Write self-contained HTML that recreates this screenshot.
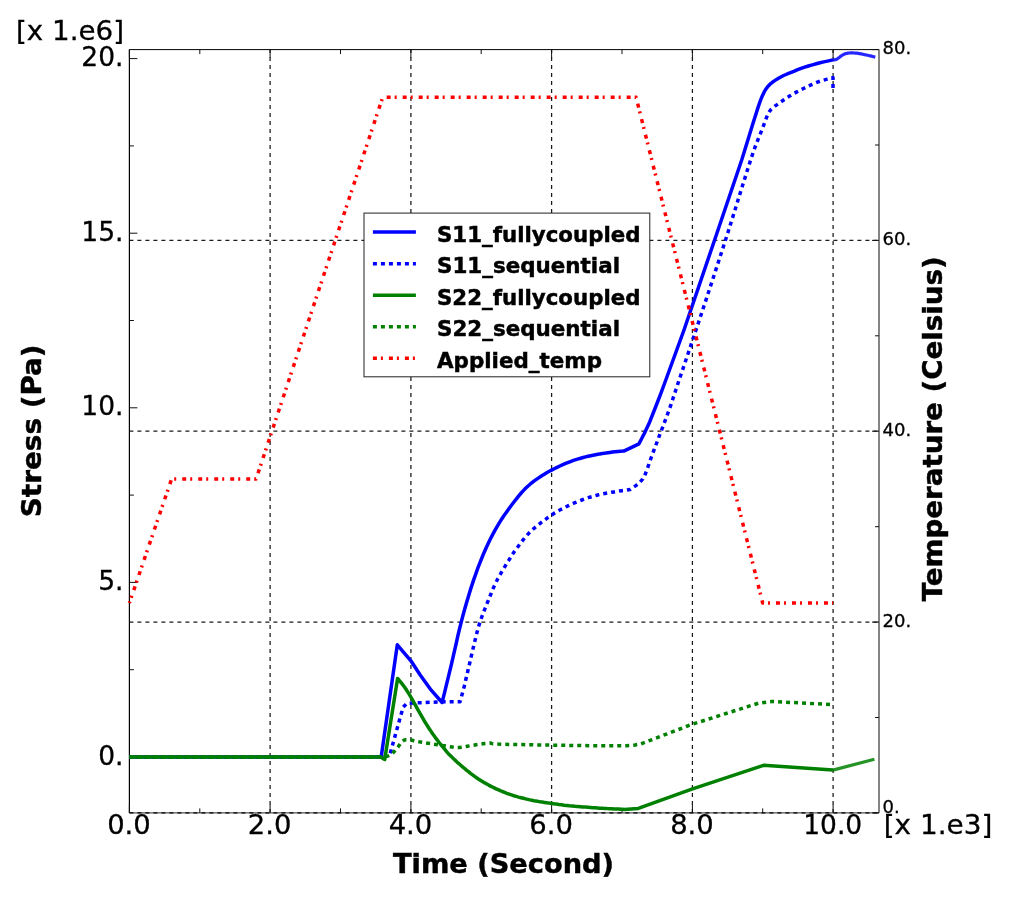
<!DOCTYPE html>
<html lang="en"><head><meta charset="utf-8"><title>Stress and temperature vs time</title>
<style>html,body{margin:0;padding:0;background:#fff;overflow:hidden}svg{display:block;will-change:transform}text{font-family:"DejaVu Sans", "Liberation Sans", sans-serif;fill:#000;stroke:#000;stroke-width:0.3px}.b{font-weight:bold;stroke-width:0.45px}</style>
</head><body>
<svg width="1026" height="897" viewBox="0 0 1026 897">
<rect x="0" y="0" width="1026" height="897" fill="#ffffff"/>
<g stroke="#1a1a1a" stroke-width="1.25" stroke-dasharray="4 4" fill="none">
<line x1="270.1" y1="812.9" x2="270.1" y2="49.6"/>
<line x1="410.9" y1="812.9" x2="410.9" y2="49.6"/>
<line x1="551.6" y1="812.9" x2="551.6" y2="49.6"/>
<line x1="692.4" y1="812.9" x2="692.4" y2="49.6"/>
<line x1="833.1" y1="812.9" x2="833.1" y2="49.6"/>
<line x1="129.4" y1="622.1" x2="879.0" y2="622.1"/>
<line x1="129.4" y1="431.2" x2="879.0" y2="431.2"/>
<line x1="129.4" y1="240.4" x2="879.0" y2="240.4"/>
</g>
<g fill="none">
<line x1="129.4" y1="49.6" x2="879.0" y2="49.6" stroke="#000" stroke-width="1"/>
<line x1="129.4" y1="49.6" x2="129.4" y2="812.9" stroke="#000" stroke-width="1.2"/>
<line x1="879.0" y1="49.6" x2="879.0" y2="812.9" stroke="#666" stroke-width="1.6"/>
<line x1="129.4" y1="812.9" x2="879.0" y2="812.9" stroke="#555" stroke-width="1.4"/>
<line x1="129.4" y1="812.9" x2="879.0" y2="812.9" stroke="#000" stroke-width="1.4" stroke-dasharray="4 4"/>
</g>
<g stroke="#111" stroke-width="1" fill="none">
<line x1="129.4" y1="812.9" x2="129.4" y2="804.9"/>
<line x1="129.4" y1="49.6" x2="129.4" y2="57.6"/>
<line x1="199.8" y1="812.9" x2="199.8" y2="808.4"/>
<line x1="199.8" y1="49.6" x2="199.8" y2="54.1"/>
<line x1="270.1" y1="812.9" x2="270.1" y2="804.9"/>
<line x1="270.1" y1="49.6" x2="270.1" y2="57.6"/>
<line x1="340.5" y1="812.9" x2="340.5" y2="808.4"/>
<line x1="340.5" y1="49.6" x2="340.5" y2="54.1"/>
<line x1="410.9" y1="812.9" x2="410.9" y2="804.9"/>
<line x1="410.9" y1="49.6" x2="410.9" y2="57.6"/>
<line x1="481.2" y1="812.9" x2="481.2" y2="808.4"/>
<line x1="481.2" y1="49.6" x2="481.2" y2="54.1"/>
<line x1="551.6" y1="812.9" x2="551.6" y2="804.9"/>
<line x1="551.6" y1="49.6" x2="551.6" y2="57.6"/>
<line x1="622.0" y1="812.9" x2="622.0" y2="808.4"/>
<line x1="622.0" y1="49.6" x2="622.0" y2="54.1"/>
<line x1="692.4" y1="812.9" x2="692.4" y2="804.9"/>
<line x1="692.4" y1="49.6" x2="692.4" y2="57.6"/>
<line x1="762.7" y1="812.9" x2="762.7" y2="808.4"/>
<line x1="762.7" y1="49.6" x2="762.7" y2="54.1"/>
<line x1="833.1" y1="812.9" x2="833.1" y2="804.9"/>
<line x1="833.1" y1="49.6" x2="833.1" y2="57.6"/>
<line x1="129.4" y1="757.0" x2="137.4" y2="757.0"/>
<line x1="129.4" y1="669.7" x2="133.9" y2="669.7"/>
<line x1="129.4" y1="582.4" x2="137.4" y2="582.4"/>
<line x1="129.4" y1="495.1" x2="133.9" y2="495.1"/>
<line x1="129.4" y1="407.8" x2="137.4" y2="407.8"/>
<line x1="129.4" y1="320.5" x2="133.9" y2="320.5"/>
<line x1="129.4" y1="233.2" x2="137.4" y2="233.2"/>
<line x1="129.4" y1="145.9" x2="133.9" y2="145.9"/>
<line x1="129.4" y1="58.6" x2="137.4" y2="58.6"/>
<line x1="879.0" y1="812.9" x2="872.0" y2="812.9"/>
<line x1="879.0" y1="717.5" x2="875.0" y2="717.5"/>
<line x1="879.0" y1="622.1" x2="872.0" y2="622.1"/>
<line x1="879.0" y1="526.7" x2="875.0" y2="526.7"/>
<line x1="879.0" y1="431.2" x2="872.0" y2="431.2"/>
<line x1="879.0" y1="335.8" x2="875.0" y2="335.8"/>
<line x1="879.0" y1="240.4" x2="872.0" y2="240.4"/>
<line x1="879.0" y1="145.0" x2="875.0" y2="145.0"/>
<line x1="879.0" y1="49.6" x2="872.0" y2="49.6"/>
</g>
<g fill="none" stroke-width="3.5" stroke-linejoin="round">
<polyline stroke="#0000ff" points="129.4,757.0 381.2,757.0 397.3,644.8 410.9,660.8 420.2,675.0 431.2,690.2 442.1,702.5 443.1,698.4 444.5,692.8 446.1,686.1 447.9,678.8 449.7,671.4 451.4,664.3 453.0,657.4 454.6,650.3 456.3,643.0 457.9,635.7 459.6,628.6 461.3,621.8 463.0,615.2 464.8,608.8 466.6,602.5 468.4,596.4 470.2,590.4 472.1,584.6 474.0,578.9 476.0,573.3 477.9,567.9 480.0,562.6 482.0,557.5 484.1,552.5 486.2,547.7 488.4,543.0 490.6,538.5 492.9,534.1 495.2,529.9 497.5,525.8 499.9,521.9 502.4,518.0 504.8,514.4 507.3,510.9 509.8,507.5 512.2,504.3 514.5,501.3 516.8,498.4 519.0,495.6 521.2,493.0 523.4,490.6 525.6,488.3 527.8,486.2 530.1,484.2 532.4,482.4 534.6,480.7 536.8,479.1 539.0,477.6 541.1,476.2 543.1,474.9 545.1,473.7 547.1,472.5 549.3,471.3 551.6,470.1 554.2,468.8 557.0,467.4 559.9,466.0 562.8,464.7 565.7,463.4 568.4,462.3 571.0,461.3 573.5,460.4 575.9,459.6 578.3,458.9 580.7,458.2 583.1,457.5 585.6,456.9 588.1,456.3 590.7,455.7 593.2,455.2 595.6,454.7 597.9,454.3 600.0,453.9 602.1,453.6 604.0,453.2 605.9,453.0 607.9,452.7 610.0,452.4 612.4,452.1 615.1,451.8 617.9,451.5 620.5,451.3 622.7,451.1 624.3,450.9 639.0,443.8 644.3,433.5 649.7,421.9 655.0,408.5 660.4,394.7 665.8,380.0 684.0,330.0 718.0,230.0 741.7,160.0 749.5,134.7 751.1,129.5 753.4,122.1 755.9,114.2 757.9,107.9 759.3,103.7 760.4,100.6 761.4,98.1 762.4,95.7 763.5,93.4 764.5,91.4 765.6,89.6 766.8,87.9 768.0,86.3 769.3,85.0 770.7,83.6 772.4,82.3 774.4,80.9 776.6,79.4 778.9,78.0 781.3,76.7 783.6,75.5 786.0,74.5 788.5,73.4 791.3,72.3 794.4,71.1 797.7,69.7 801.1,68.4 804.7,67.2 808.4,66.0 812.4,64.9 816.3,63.8 820.0,62.8 823.7,61.9 827.5,61.1 830.7,60.4 833.0,59.9"/>
<polyline stroke="#0000ff" stroke-opacity="0.85" stroke-width="3.2" points="833.0,59.9 833.6,59.9 834.4,59.8 835.4,59.7 836.4,59.4 837.4,58.8 838.4,58.0 839.5,57.2 840.5,56.4 841.5,55.7 842.5,55.1 843.5,54.5 844.6,54.0 845.7,53.6 846.9,53.4 848.1,53.1 849.3,53.0 850.5,52.9 851.6,52.9 852.8,52.9 854.1,53.0 855.4,53.1 856.7,53.2 858.1,53.4 859.6,53.6 861.2,53.9 862.8,54.2 864.5,54.6 866.4,55.0 868.7,55.5 871.3,56.1 873.7,56.7 875.3,57.1"/>
<polyline stroke="#0000ff" stroke-dasharray="4 4" points="833.0,88.0 833.0,77.6 830.7,78.2 827.3,79.1 823.6,80.1 820.0,81.2 816.8,82.4 813.6,83.8 810.3,85.2 807.0,86.8 803.5,88.5 800.0,90.2 796.4,92.1 793.0,94.0 789.6,96.1 786.1,98.3 782.9,100.5 780.2,102.4 778.1,103.9 776.4,105.1 774.9,106.2 773.5,107.4 772.1,108.6 770.9,109.6 769.8,111.0 768.5,113.0 767.3,115.6 766.1,118.6 764.7,122.4 762.9,127.4 760.7,132.9 758.2,139.0 755.1,147.0 751.2,158.1 746.4,173.2 740.7,191.4 734.5,211.5 728.0,232.2 720.9,254.3 713.1,278.2 705.4,301.7 698.5,322.5 692.5,340.5 687.0,356.8 682.2,371.0 678.2,382.7 675.4,391.2 673.5,396.9 672.1,401.2 670.7,405.4 669.2,409.6 667.9,413.2 666.6,416.6 665.3,420.1 663.9,423.7 662.6,427.3 661.1,431.1 659.5,435.3 657.7,440.2 655.7,445.6 653.6,451.1 651.5,456.7 649.5,462.5 647.4,468.5 645.3,474.1 642.8,478.9 639.6,482.6 635.9,485.6 632.4,487.9 630.0,489.6 628.6,489.8 626.6,490.1 624.3,490.4 621.8,490.7 619.1,491.1 616.6,491.5 614.1,491.9 611.4,492.3 608.7,492.8 606.0,493.3 603.2,493.8 600.5,494.4 597.8,495.0 595.2,495.7 592.5,496.5 589.8,497.2 587.2,498.1 584.5,499.0 581.8,500.0 579.2,501.0 576.5,502.1 573.8,503.2 571.1,504.4 568.4,505.7 565.7,507.0 563.0,508.4 560.3,509.8 557.5,511.3 554.6,513.0 551.6,515.0 548.3,517.3 544.7,519.9 541.1,522.6 537.5,525.5 534.1,528.3 531.0,531.1 528.3,533.8 525.9,536.5 523.7,539.2 521.6,541.8 519.6,544.5 517.6,547.2 515.7,549.8 513.8,552.4 512.1,555.0 510.4,557.7 508.7,560.4 506.9,563.2 505.1,566.2 503.2,569.2 501.4,572.4 499.6,575.6 497.8,578.7 496.2,581.9 494.7,585.0 493.3,588.1 492.0,591.2 490.8,594.3 489.5,597.4 488.2,600.7 486.8,604.1 485.4,607.7 483.9,611.4 482.5,615.0 481.2,618.5 480.1,621.8 479.2,624.6 478.4,627.1 477.8,629.3 477.2,631.8 476.4,634.8 475.5,638.5 474.3,643.4 472.9,649.2 471.4,655.6 470.0,661.9 468.6,667.7 467.5,672.5 466.6,676.1 466.0,679.0 465.4,681.3 465.0,683.4 464.5,685.4 463.9,687.7 463.2,690.3 462.5,693.0 461.7,695.7 461.0,698.2 460.4,700.3 460.0,701.8 442.1,701.8 407.0,703.3 403.1,707.2 389.8,754.8 384.0,757.0 129.4,757.0"/>
<polyline stroke="#008000" points="129.4,757.0 380.5,757.0 384.7,759.5 397.6,678.4 398.3,679.2 399.2,680.3 400.3,681.6 401.5,683.1 402.7,684.6 403.9,686.2 405.0,687.8 406.2,689.5 407.3,691.3 408.5,693.1 409.7,695.1 410.9,697.1 412.2,699.3 413.4,701.6 414.7,704.0 416.1,706.4 417.4,708.8 418.7,711.1 420.0,713.4 421.3,715.6 422.6,717.9 423.9,720.1 425.2,722.3 426.5,724.4 427.8,726.5 429.1,728.5 430.4,730.4 431.7,732.4 433.0,734.3 434.3,736.1 435.6,737.9 436.9,739.6 438.2,741.3 439.5,743.0 440.8,744.6 442.1,746.2 443.4,747.7 444.6,749.2 445.8,750.7 447.0,752.1 448.4,753.7 450.0,755.3 451.8,757.1 453.8,759.0 455.9,760.9 458.0,762.9 460.2,764.8 462.3,766.6 464.4,768.3 466.4,770.1 468.5,771.7 470.5,773.4 472.6,774.9 474.6,776.4 476.6,777.8 478.7,779.2 480.8,780.5 482.8,781.7 484.8,782.9 486.8,784.0 488.7,785.1 490.6,786.1 492.4,787.0 494.2,787.9 496.1,788.8 498.1,789.7 500.2,790.6 502.3,791.5 504.6,792.4 506.8,793.3 509.1,794.1 511.4,794.9 513.7,795.7 516.2,796.4 518.6,797.1 521.0,797.7 523.4,798.3 525.7,798.9 527.9,799.4 529.9,799.9 531.9,800.3 533.9,800.7 535.9,801.0 538.0,801.4 540.1,801.8 542.3,802.1 544.5,802.4 546.7,802.7 549.0,803.1 551.3,803.4 553.7,803.8 556.2,804.1 558.8,804.5 561.4,804.8 564.1,805.2 566.7,805.5 569.4,805.8 572.1,806.0 574.9,806.3 577.7,806.5 580.4,806.7 583.0,806.9 585.5,807.1 587.9,807.3 590.3,807.5 592.7,807.7 595.0,807.8 597.4,808.0 599.8,808.2 602.2,808.3 604.7,808.4 607.1,808.6 609.4,808.7 611.7,808.8 614.0,808.9 616.4,809.0 618.7,809.1 620.9,809.3 622.7,809.3 624.0,809.4 638.3,808.4 691.8,789.2 763.5,765.3 832.9,770.1"/>
<polyline stroke="#008000" stroke-opacity="0.85" stroke-width="3.2" points="832.9,770.1 874.4,759.2"/>
<polyline stroke="#008000" stroke-dasharray="4 4" points="129.4,757.0 384.0,757.0 385.2,756.7 386.9,756.3 388.8,755.7 390.6,754.8 392.2,753.6 393.8,752.0 395.3,750.3 396.8,748.6 398.2,746.8 399.6,744.8 400.9,742.9 402.3,741.5 403.5,740.6 404.5,740.0 405.8,739.7 407.8,739.7 410.7,740.0 414.2,740.7 418.0,741.6 421.8,742.3 425.7,742.9 429.7,743.5 433.7,744.1 437.4,744.7 440.8,745.3 444.0,745.8 447.1,746.3 449.9,746.7 452.4,747.1 454.6,747.4 456.8,747.6 459.2,747.6 461.7,747.3 464.3,746.9 467.1,746.3 470.5,745.7 474.8,745.0 479.8,744.2 484.8,743.5 488.9,743.1 490.8,743.1 491.3,743.4 492.9,743.8 498.1,744.1 508.6,744.4 522.7,744.6 537.8,744.9 551.3,745.1 562.8,745.3 573.6,745.5 583.7,745.6 593.3,745.7 602.6,745.8 611.4,745.8 619.3,745.8 626.0,745.7 631.2,745.4 635.2,744.9 638.2,744.4 640.3,744.1 691.8,724.4 758.4,703.2 772.0,701.5 833.4,704.6"/>
<polyline stroke="#ff0000" stroke-dasharray="4 4 2 6" stroke-dashoffset="2.4" points="129.4,603.0 171.6,479.0 256.1,479.0 382.7,97.3 636.1,97.3 762.7,603.0 833.1,603.0"/>
</g>
<rect x="364.0" y="213.1" width="285.8" height="163.7" fill="#fff" stroke="#222" stroke-width="1"/>
<line x1="372.9" y1="232.1" x2="415.9" y2="232.1" stroke="#0000ff" stroke-width="3.5"/>
<text class="b" x="437" y="241.7" font-size="20.5" textLength="203.5" lengthAdjust="spacingAndGlyphs">S11_fullycoupled</text>
<line x1="372.9" y1="263.7" x2="415.9" y2="263.7" stroke="#0000ff" stroke-width="3.5" stroke-dasharray="4 4"/>
<text class="b" x="437" y="273.3" font-size="20.5" textLength="183" lengthAdjust="spacingAndGlyphs">S11_sequential</text>
<line x1="372.9" y1="295.3" x2="415.9" y2="295.3" stroke="#008000" stroke-width="3.5"/>
<text class="b" x="437" y="304.9" font-size="20.5" textLength="203.5" lengthAdjust="spacingAndGlyphs">S22_fullycoupled</text>
<line x1="372.9" y1="326.8" x2="415.9" y2="326.8" stroke="#008000" stroke-width="3.5" stroke-dasharray="4 4"/>
<text class="b" x="437" y="336.4" font-size="20.5" textLength="183" lengthAdjust="spacingAndGlyphs">S22_sequential</text>
<line x1="372.9" y1="358.3" x2="415.9" y2="358.3" stroke="#ff0000" stroke-width="3.5" stroke-dasharray="4 4 2 6"/>
<text class="b" x="437" y="367.9" font-size="20.5" textLength="165" lengthAdjust="spacingAndGlyphs">Applied_temp</text>
<text x="123.5" y="764.6" font-size="26.5" text-anchor="end">0.</text>
<text x="123.5" y="590.0" font-size="26.5" text-anchor="end">5.</text>
<text x="123.5" y="415.4" font-size="26.5" text-anchor="end">10.</text>
<text x="123.5" y="240.8" font-size="26.5" text-anchor="end">15.</text>
<text x="123.5" y="66.2" font-size="26.5" text-anchor="end">20.</text>
<text x="129.0" y="834.0" font-size="26.5" text-anchor="middle" textLength="43.7" lengthAdjust="spacingAndGlyphs">0.0</text>
<text x="269.7" y="834.0" font-size="26.5" text-anchor="middle" textLength="43.7" lengthAdjust="spacingAndGlyphs">2.0</text>
<text x="410.5" y="834.0" font-size="26.5" text-anchor="middle" textLength="43.7" lengthAdjust="spacingAndGlyphs">4.0</text>
<text x="551.2" y="834.0" font-size="26.5" text-anchor="middle" textLength="43.7" lengthAdjust="spacingAndGlyphs">6.0</text>
<text x="692.0" y="834.0" font-size="26.5" text-anchor="middle" textLength="43.7" lengthAdjust="spacingAndGlyphs">8.0</text>
<text x="832.7" y="834.0" font-size="26.5" text-anchor="middle">10.0</text>
<text x="16" y="39.7" font-size="26.5" textLength="108" lengthAdjust="spacingAndGlyphs">[x 1.e6]</text>
<text x="883.7" y="834.0" font-size="26.5" textLength="108.6" lengthAdjust="spacingAndGlyphs">[x 1.e3]</text>
<text x="882.5" y="812.9" font-size="18">0.</text>
<text x="882.5" y="627.0" font-size="18">20.</text>
<text x="882.5" y="436.1" font-size="18">40.</text>
<text x="882.5" y="245.3" font-size="18">60.</text>
<text x="882.5" y="54.2" font-size="18">80.</text>
<text class="b" x="393" y="873.2" font-size="26.5" textLength="221" lengthAdjust="spacingAndGlyphs">Time (Second)</text>
<text class="b" fill="#222" transform="translate(41.2,517.2) rotate(-90)" font-size="27" textLength="172.8" lengthAdjust="spacingAndGlyphs">Stress (Pa)</text>
<text class="b" fill="#222" transform="translate(942.2,601.4) rotate(-90)" font-size="27" textLength="345.0" lengthAdjust="spacingAndGlyphs">Temperature (Celsius)</text>
</svg>
</body></html>
